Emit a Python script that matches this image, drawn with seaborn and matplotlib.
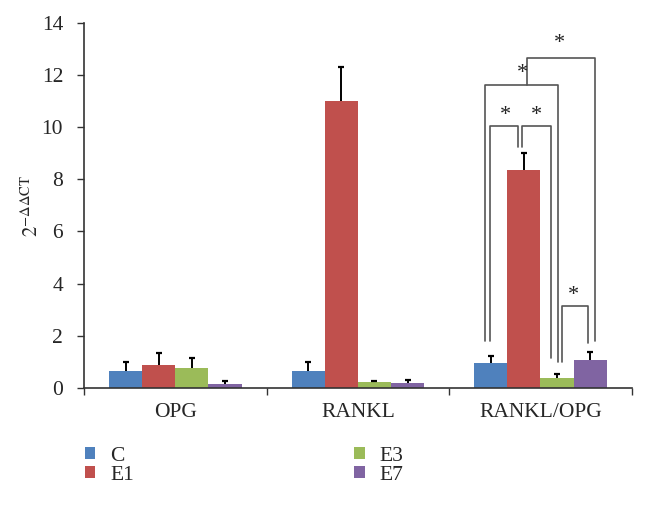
import numpy as np
import pandas as pd
import matplotlib
matplotlib.use("Agg")
import matplotlib.pyplot as plt
from matplotlib.patches import Patch
import seaborn as sns

# ---- data ----
genes = ["OPG", "RANKL", "RANKL/OPG"]
groups = ["C", "E1", "E3", "E7"]
means = {
    "C":  [0.66, 0.65, 0.95],
    "E1": [0.89, 11.0, 8.36],
    "E3": [0.78, 0.22, 0.36],
    "E7": [0.16, 0.17, 1.05],
}
errs = {
    "C":  [0.32, 0.36, 0.28],
    "E1": [0.44, 1.31, 0.64],
    "E3": [0.38, 0.06, 0.18],
    "E7": [0.10, 0.13, 0.33],
}
colors = ["#4F81BD", "#C0504D", "#9BBB59", "#8064A2"]
yticks = [0, 2, 4, 6, 8, 10, 12, 14]

sns.set_theme(style="white")
plt.rcParams["font.family"] = ["Liberation Serif", "DejaVu Serif"]
plt.rcParams["mathtext.fontset"] = "stix"

rows = []
for g in groups:
    for i, gene in enumerate(genes):
        rows.append({"gene": gene, "group": g, "value": means[g][i], "err": errs[g][i]})
df = pd.DataFrame(rows)

fig = plt.figure(figsize=(6.46, 5.11), dpi=100)
ax = fig.add_axes([0.130, 0.241, 0.848, 0.714])

sns.barplot(data=df, x="gene", y="value", hue="group", order=genes, hue_order=groups,
            palette=colors, errorbar=None, width=0.726, saturation=1, ax=ax,
            linewidth=0, legend=False)

# bar centers from patches
bar_containers = list(ax.containers)
centers = {}
for gi, cont in enumerate(bar_containers):
    g = groups[gi]
    xs = [p.get_x() + p.get_width() / 2 for p in cont.patches]
    centers[g] = xs
    tops = np.array(means[g])
    ax.errorbar(xs, tops, yerr=[np.zeros(3), np.array(errs[g])], fmt="none",
                ecolor="black", elinewidth=1.4, capsize=0, zorder=3)
    ax.plot(xs, tops + np.array(errs[g]), linestyle="none", marker="_",
            markersize=5, markeredgewidth=1.6, color="black", zorder=3)

ax.set_ylim(0, 14)
ax.set_xlim(-0.5, 2.5)
ax.set_yticks(yticks)
ax.set_yticklabels([str(t) for t in yticks], fontsize=15.5)
ax.set_xticks([0, 1, 2])
ax.set_xticklabels(genes, fontsize=15.5)
ax.set_xticks([-0.5, 0.5, 1.5, 2.5], minor=True)
ax.tick_params(axis="x", which="major", length=0, pad=11)
ax.tick_params(axis="x", which="minor", length=5, width=1, color="#333333", direction="out", bottom=True)
ax.tick_params(axis="y", length=5, width=1, color="#333333", direction="out", left=True, pad=10)
ax.set_xlabel("")
ax.set_ylabel(r"$2^{-\Delta\Delta \mathrm{CT}}$", fontsize=15)
ax.yaxis.set_label_coords(-0.075, 0.5)
for s in ["top", "right"]:
    ax.spines[s].set_visible(False)
for s in ["left", "bottom"]:
    ax.spines[s].set_color("#333333")
    ax.spines[s].set_linewidth(1.2)

# ---- significance brackets (RANKL/OPG group) ----
k = 2
cC, cE1, cE3, cE7 = (centers[g][k] for g in groups)
lc = "#555555"
lw = 1.2
def bracket(x1, x2, yb1, yb2, ytop):
    ax.plot([x1, x1, x2, x2], [yb1, ytop, ytop, yb2], color=lc, lw=lw, zorder=4, clip_on=False)

bracket(cC - 0.005, cE1 - 0.033, 1.78, 9.26, 10.05)
bracket(cE1 - 0.009, cE3 - 0.035, 9.26, 1.15, 10.05)
bracket(cC - 0.032, cE3 + 0.003, 1.78, 1.01, 11.62)
bracket(cE3 + 0.029, cE7 - 0.013, 1.01, 1.74, 3.15)
bracket((cC - 0.032 + cE3 + 0.003) / 2 + 0.03, cE7 + 0.027, 11.62, 1.78, 12.65)

star_kw = dict(ha="center", va="center", fontsize=16, color="#222222", zorder=5)
ax.text((cC + cE1) / 2 - 0.01, 10.45, "*", **star_kw)
ax.text((cE1 + cE3) / 2 - 0.02, 10.45, "*", **star_kw)
ax.text((cC + cE3) / 2 - 0.01, 12.05, "*", **star_kw)
ax.text((cE3 + cE7) / 2, 3.55, "*", **star_kw)
ax.text(2.105, 13.2, "*", **star_kw)

# ---- legend ----
handles = [Patch(facecolor=c, edgecolor="none", label=g) for c, g in zip(colors, groups)]
fig.legend(handles=handles, loc="upper left", bbox_to_anchor=(0.101, 0.164),
           bbox_transform=fig.transFigure, ncol=2, frameon=False, fontsize=15.5,
           handlelength=0.48, handleheight=0.48, handletextpad=0.7, columnspacing=10.25,
           labelspacing=0.0)

fig.savefig("out.png", dpi=100)
